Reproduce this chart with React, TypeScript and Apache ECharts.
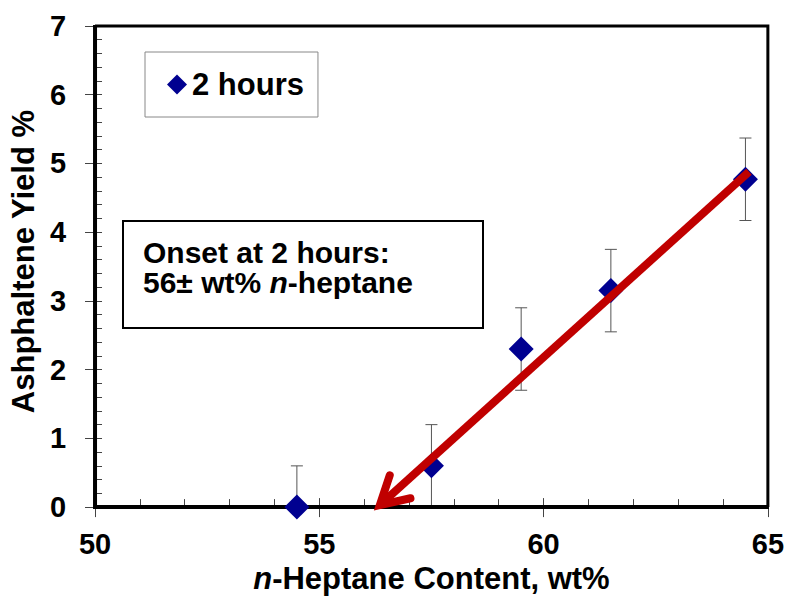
import React, { useEffect, useRef } from 'react';
import * as echarts from 'echarts';

// ---- data ----
const heptane = [54.5, 57.5, 59.5, 61.5, 64.5];
const yieldPct = [0, 0.6, 2.3, 3.15, 4.77];
const yieldErr = [0.6, 0.6, 0.6, 0.6, 0.6];
const arrowFrom = [64.58, 4.88];
const arrowTo = [56.3, 0];
const seriesName = '2 hours';
const xTitle = ['n', '-Heptane Content, wt%'];
const yTitle = 'Ashphaltene Yield %';
const onsetLine1 = 'Onset at 2 hours:';
const onsetLine2 = ['56± wt% ', 'n', '-heptane'];
const xRange = [50, 65];
const yRange = [0, 7];

const FONT = '"Liberation Sans", Arial, Helvetica, sans-serif';
const tickStyle = { color: '#444', width: 1 };
const hiddenLine = { show: false, onZero: false };

export default function App() {
  const ref = useRef<HTMLDivElement>(null);
  useEffect(() => {
    document.body.style.margin = '0';
    const chart = echarts.init(ref.current!, undefined, { renderer: 'svg' });
    const option: any = {
      animation: false,
      backgroundColor: '#fff',
      grid: { left: 93, right: 19, top: 26, bottom: 90, show: false },
      legend: {
        data: [seriesName], left: 145, top: 52, orient: 'horizontal',
        backgroundColor: '#fff', borderColor: '#888', borderWidth: 1,
        padding: [17, 14, 17, 22], itemWidth: 20, itemHeight: 20, itemGap: 0,
        selectedMode: false,
        textStyle: { fontSize: 31, fontWeight: 'bold', color: '#000', fontFamily: FONT },
      },
      xAxis: [
        {
          type: 'value', min: xRange[0], max: xRange[1], interval: 5, position: 'bottom',
          axisLine: hiddenLine,
          axisTick: { show: true, inside: false, length: 10, lineStyle: tickStyle },
          minorTick: { show: false }, splitLine: { show: false },
          axisLabel: { fontSize: 29, fontWeight: 'bold', color: '#000', fontFamily: FONT, margin: 22 },
          name: `{i|${xTitle[0]}}{b|${xTitle[1]}}`, nameLocation: 'middle', nameGap: 52,
          nameTextStyle: {
            rich: {
              i: { fontSize: 31, fontWeight: 'bold', fontStyle: 'italic', color: '#000', fontFamily: FONT },
              b: { fontSize: 31, fontWeight: 'bold', color: '#000', fontFamily: FONT },
            },
          },
        },
        {
          type: 'value', min: xRange[0], max: xRange[1], interval: 5, position: 'bottom',
          axisLine: hiddenLine,
          axisTick: { show: true, inside: true, length: 9, lineStyle: tickStyle },
          minorTick: { show: true, splitNumber: 5, length: 8, lineStyle: tickStyle },
          splitLine: { show: false }, axisLabel: { show: false },
        },
      ],
      yAxis: [
        {
          type: 'value', min: yRange[0], max: yRange[1], interval: 1, position: 'left',
          axisLine: hiddenLine,
          axisTick: { show: true, inside: false, length: 10, lineStyle: tickStyle },
          minorTick: { show: false }, splitLine: { show: false },
          axisLabel: { fontSize: 29, fontWeight: 'bold', color: '#000', fontFamily: FONT, margin: 29 },
          name: yTitle, nameLocation: 'middle', nameGap: 55,
          nameTextStyle: { fontSize: 31, fontWeight: 'bold', color: '#000', fontFamily: FONT, padding: [0, 0, 0, 10] },
        },
        {
          type: 'value', min: yRange[0], max: yRange[1], interval: 1, position: 'left',
          axisLine: hiddenLine,
          axisTick: { show: true, inside: true, length: 7, lineStyle: tickStyle },
          minorTick: { show: true, splitNumber: 5, length: 7, lineStyle: tickStyle },
          splitLine: { show: false }, axisLabel: { show: false },
        },
      ],
      series: [
        {
          name: 'frame', type: 'custom', clip: false, z: 5, silent: true,
          data: [[xRange[0], yRange[0], xRange[1], yRange[1]]],
          encode: { x: [0, 2], y: [1, 3] },
          renderItem: (params: any, api: any) => {
            const bl = api.coord([api.value(0), api.value(1)]);
            const tr = api.coord([api.value(2), api.value(3)]);
            return {
              type: 'group',
              children: [
                { type: 'polyline', shape: { points: [[bl[0], tr[1]], [tr[0], tr[1]], [tr[0], bl[1]]] }, style: { stroke: '#000', lineWidth: 3, fill: 'none', lineJoin: 'miter' } },
                { type: 'polyline', shape: { points: [[bl[0], tr[1] - 1], [bl[0], bl[1]], [tr[0] + 1, bl[1]]] }, style: { stroke: '#000', lineWidth: 4, fill: 'none', lineJoin: 'miter' } },
              ],
            };
          },
        },
        {
          name: 'error', type: 'custom', clip: true, z: 2,
          data: heptane.map((x, i) => [x, yieldPct[i] - yieldErr[i], yieldPct[i] + yieldErr[i]]),
          encode: { x: 0, y: [1, 2] },
          renderItem: (params: any, api: any) => {
            const x = api.value(0);
            const lo = api.coord([x, api.value(1)]);
            const hi = api.coord([x, api.value(2)]);
            const h = 6;
            const st = { stroke: '#555', lineWidth: 1 };
            return {
              type: 'group',
              children: [
                { type: 'line', shape: { x1: lo[0], y1: lo[1], x2: hi[0], y2: hi[1] }, style: st },
                { type: 'line', shape: { x1: hi[0] - h, y1: hi[1], x2: hi[0] + h, y2: hi[1] }, style: st },
                { type: 'line', shape: { x1: lo[0] - h, y1: lo[1], x2: lo[0] + h, y2: lo[1] }, style: st },
              ],
            };
          },
        },
        {
          name: seriesName, type: 'scatter', symbol: 'diamond', symbolSize: 25, z: 6, clip: false,
          itemStyle: { color: '#000090', opacity: 1 },
          data: heptane.map((x, i) => [x, yieldPct[i]]),
        },
        {
          name: 'arrow', type: 'custom', clip: false, z: 7,
          data: [[arrowFrom[0], arrowFrom[1], arrowTo[0], arrowTo[1]]],
          encode: { x: [0, 2], y: [1, 3] },
          renderItem: (params: any, api: any) => {
            const p1 = api.coord([api.value(0), api.value(1)]);
            const tip = api.coord([api.value(2), api.value(3)]);
            const dx = p1[0] - tip[0], dy = p1[1] - tip[1];
            const len = Math.sqrt(dx * dx + dy * dy);
            const ux = dx / len, uy = dy / len;
            const a = (27 * Math.PI) / 180, L = 34;
            const rot = (ang: number) => [
              tip[0] + L * (ux * Math.cos(ang) - uy * Math.sin(ang)),
              tip[1] + L * (ux * Math.sin(ang) + uy * Math.cos(ang)),
            ];
            const arm1 = rot(a), arm2 = rot(-a);
            const st = { stroke: '#C00000', lineWidth: 8, fill: 'none' };
            return {
              type: 'group',
              children: [
                { type: 'line', shape: { x1: p1[0], y1: p1[1], x2: tip[0] + ux * 5, y2: tip[1] + uy * 5 }, style: { ...st, lineCap: 'butt' } },
                { type: 'polyline', shape: { points: [arm1, [tip[0] + ux * 3, tip[1] + uy * 3], arm2] }, style: { ...st, lineCap: 'round', lineJoin: 'miter' } },
              ],
            };
          },
        },
      ],
      graphic: [
        { type: 'rect', z: 10, shape: { x: 123, y: 221, width: 360, height: 107 }, style: { fill: '#fff', stroke: '#000', lineWidth: 2 } },
        {
          type: 'text', z: 11, x: 143, y: 237,
          style: {
            text: `{b|${onsetLine1}}\n{b|${onsetLine2[0]}}{i|${onsetLine2[1]}}{b|${onsetLine2[2]}}`,
            verticalAlign: 'top',
            rich: {
              b: { fontSize: 30, fontWeight: 'bold', fill: '#000', fontFamily: FONT, lineHeight: 30 },
              i: { fontSize: 30, fontWeight: 'bold', fontStyle: 'italic', fill: '#000', fontFamily: FONT, lineHeight: 30 },
            },
          },
        },
      ],
    };
    chart.setOption(option);
    return () => chart.dispose();
  }, []);
  return <div ref={ref} style={{ width: 787, height: 599 }} />;
}
